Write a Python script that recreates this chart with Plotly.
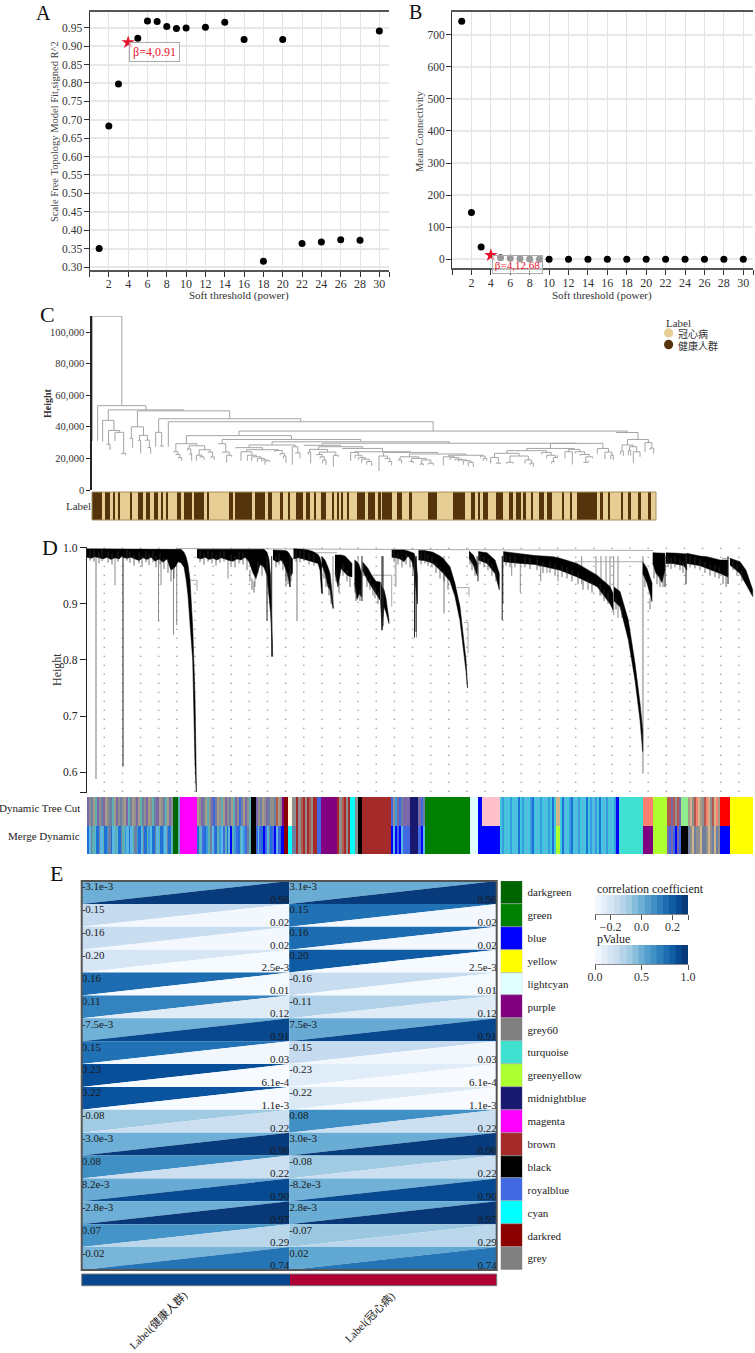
import plotly.graph_objects as go
from plotly.colors import sample_colorscale

W, H = 755, 1353
SERIF = "Liberation Serif, Noto Sans CJK SC"

# ---------- A / B: soft threshold ----------
powers = [1, 2, 3, 5, 6, 7, 8, 9, 10, 12, 14, 16, 18, 20, 22, 24, 26, 28, 30]
fit_r2 = [0.35, 0.683, 0.797, 0.921, 0.968, 0.967, 0.953, 0.948, 0.949, 0.951,
          0.965, 0.918, 0.316, 0.918, 0.364, 0.368, 0.374, 0.373, 0.941]
mean_k = [742, 146, 38, 5, 3, 1.5, 1, 0.5, 0.4, 0.3, 0.2, 0.2, 0.2, 0.2, 0.1, 0.1, 0.1, 0.1, 0.1]
power_ticks = [0, 2, 4, 6, 8, 10, 12, 14, 16, 18, 20, 22, 24, 26, 28, 30, 31]
power_labels = ["", "2", "4", "6", "8", "10", "12", "14", "16", "18", "20", "22", "24", "26", "28", "30", ""]
best_power = 4
best_fit = 0.91
best_k = 12.68

# ---------- C: sample tree, leaf = (position, height), node = [height, child, child] ----------
sample_tree = [110,
    (22, 31.0),
    [53.4,
     (38, 31.2),
     [50.7,
      [44.1, (53, 30.6),
       [37.7,
        [29, (66, 28.4), (75, 25.3)],
        [36.5, (90, 31), [23.2, (110, 22.6), (122, 22.2)]]]],
      [50.1,
       [40,
        [32.7, (135, 32.2), (143, 26.8)],
        [34.6, [31.5, (160, 31.0), (167, 23.2)], [31.6, (182, 31.0), [27, (189, 26.5), (197, 23)]]]],
       [45.1,
        [36.5, (212, 27.4), [27.9, (225, 27.6), (235, 27.4)]],
        [43.2, (250, 27.4),
         [37.3,
          [34.4,
           [29.3,
            [24.2, (266, 23.8), [22.5, (273, 22), [20.5, (280, 20), (290, 18.5)]]],
            [28,
             [26, (307, 25), [23, (315, 22), (320, 18.5)]],
             [25.5,
              [22, (334, 18.5), [21, (345, 20.5), (357, 19)]],
              [24, (368, 24), [21, (378, 20), (388, 19)]]]]],
           [32,
            [29.3, (401, 29), [24, (412, 23.5), [22, (425, 17.5), (440, 21)]]],
            [30.5,
             [28.5,
              [26.8, (452, 26.3),
               [25.5,
                [24.2, (468, 18.5), [22, (487, 18.5), [21, (500, 18.5), [20, (517, 17.8),
                 [19, (530, 18), [18.5, (540, 16), (555, 18)]]]]]],
                [25, (570, 24), [23, (585, 22), [21.5, (595, 20), (603, 17)]]]]],
              [27.4, (622, 16), [23.5, (632, 23), (645, 20)]]],
             [29.6,
              [28.3, (657, 28),
               [27.4,
                [25.7,
                 [24, (670, 22.4), (677, 16.8)],
                 [24,
                  [22.5, (695, 22), [21, (705, 20), [19, (713, 17), (723, 15.8)]]],
                  [22, (745, 14.7), (760, 21)]]],
                [26.3, (772, 26),
                 [24.2,
                  [23.8, (797, 18.5), [22, (810, 20), [20.5, (820, 19), [19.5, (830, 17), [18, (845, 16), (860, 15.2)]]]]],
                  [23.8,
                   [21.5, (882, 12), [20, (900, 19.5), [18, (910, 18.5), (920, 15.5)]]],
                   [22.8,
                    [21,
                     [19, (940, 18.5), (950, 17)],
                     [20, [18, (975, 18.5), (985, 17)],
                      [19, [16.5, (1005, 16), (1015, 15.5)], [17, (1030, 16), (1045, 15.5)]]]],
                    [22,
                     [21, (1075, 15.5), [20.5, (1095, 19), [19.5, (1110, 18.5), [19, (1120, 18),
                      [18.5, (1135, 16), [17.5, (1150, 15), (1165, 14.5)]]]]]],
                     [21.5, (1187, 20.5), [20, (1195, 18.5), (1205, 18.5)]]]]]]]]],
              [29.5,
               [26.3,
                [24.9,
                 [23.2,
                  [20.6, (1217, 16.8), [17, (1233, 16.8), (1247, 16.4)]],
                  [21.5, [17.5, (1265, 16.4), (1285, 16.8)], [19, (1320, 16.8), [17, (1335, 15.8), (1345, 14.7)]]]],
                 [23.8, (1370, 22.5), [22, (1385, 20), [20.5, [18, (1400, 16.8), (1410, 18)], (1418, 22)]]]],
                [25.7,
                 [24.2, (1440, 20), (1462, 16.2)],
                 [24.2, (1470, 23.2), [22.5, (1485, 21.7), [21, [17.5, (1495, 17.3), (1510, 18.5)], (1523, 20)]]]]],
               [26.3, (1537, 23), [24, (1560, 19.5), [22, (1577, 19.5), (1585, 19)]]]]]]]],
          [36.4, (1595, 35.9),
           [32,
            [28.5,
             [24.7, (1607, 22.5), (1615, 21.5)],
             [27.4, [25, (1630, 22), (1637, 21.7)], [24.2, (1645, 17.3), (1665, 21)]]],
            [30, (1680, 24), [26.5, (1695, 25.3), (1706, 23)]]]]]]]]]]]

# start/end of the dark samples along the label strip
healthy_start = [22, 60, 84, 98, 135, 160, 183, 206, 227, 243, 275, 297, 328, 365, 433, 450, 510, 548,
                 585, 610, 632, 662, 687, 708, 742, 757, 768, 786, 815, 848, 880, 890, 935, 973, 1028,
                 1103, 1158, 1178, 1195, 1233, 1271, 1293, 1315, 1340, 1362, 1385, 1432, 1455, 1477,
                 1545, 1568, 1607, 1628, 1660, 1690]
healthy_end = [50, 75, 91, 105, 142, 173, 195, 218, 235, 250, 288, 320, 358, 371, 445, 500, 540, 562,
               593, 615, 653, 675, 693, 722, 748, 760, 775, 792, 840, 870, 887, 920, 951, 981, 1057,
               1140, 1171, 1185, 1210, 1255, 1285, 1307, 1322, 1345, 1377, 1400, 1438, 1460, 1537,
               1553, 1575, 1615, 1637, 1667, 1697]
label_strip_span = [22, 1713]

# ---------- D: gene tree, each row is (position, upper height, lower height) ----------
gene_branches = [
    [(87, .998, .983), (91, .998, .981), (95, .998, .984), (99, .998, .982), (103, .998, .98), (107, .998, .983),
     (111, .998, .979), (115, .998, .982), (119, .998, .98), (122, .998, .985), (124, .998, .982), (127, .998, .981),
     (131, .998, .983), (135, .998, .98), (139, .998, .977), (143, .998, .982), (147, .998, .979), (151, .998, .983),
     (155, .998, .976), (159, .998, .98), (163, .998, .974), (167, .998, .98), (171, .998, .96), (175, .998, .965),
     (178, .998, .975), (181, .997, .973), (184, .992, .965), (186, .984, .945), (188, .97, .915), (190, .9425, .865),
     (192.7, .859, .80), (195, .735, .616), (196, .62, .575), (196.4, .565, .565)],
    [(197, .997, .982), (201, .997, .98), (205, .997, .983), (209, .997, .979), (213, .997, .981), (217, .997, .978),
     (221, .997, .982), (225, .997, .98), (229, .997, .977), (233, .997, .976), (237, .997, .98), (241, .997, .978),
     (245, .997, .983), (249, .997, .975), (253, .997, .955), (256, .997, .945), (260, .997, .97), (264, .997, .965),
     (267, .992, .95), (269, .98, .92), (270.5, .95, .885), (272, .87, .83), (272.7, .806, .806)],
    [(273, .996, .979), (277, .996, .974), (281, .996, .978), (284, .995, .97), (287, .994, .955), (289, .99, .94),
     (290, .985, .93)],
    [(288.5, .99, .96), (291, .985, .95), (292.5, .98, .955)],
    [(293.5, .998, .98), (298, .998, .982), (303, .997, .98), (308, .996, .978), (313, .993, .975), (318, .988, .972),
     (320, .982, .96), (321.5, .97, .92), (322.5, .93, .918)],
    [(321.5, .985, .97), (325, .978, .954), (328, .965, .93), (330, .954, .925), (332, .92, .90), (333.3, .893, .892)],
    [(335, .987, .955), (338, .987, .93), (341, .987, .963), (345, .985, .955), (348, .98, .95), (352, .972, .948)],
    [(354.5, .978, .937), (357, .975, .908), (359, .97, .918), (361.7, .954, .912)],
    [(362.5, .975, .96), (368, .963, .94), (372, .95, .93), (376, .94, .918), (380, .939, .907)],
    [(380.5, .939, .907), (382, .93, .853), (384, .925, .895), (386, .91, .885), (389, .871, .865)],
    [(391.7, .996, .983), (396, .996, .982), (400, .996, .98), (404, .996, .975), (408, .994, .985), (412, .992, .975),
     (414, .99, .96), (416, .98, .93), (417.5, .95, .90)],
    [(418.5, .995, .978), (424, .995, .977), (430, .993, .974), (433, .992, .972), (440, .985, .96), (443, .981, .955),
     (450, .966, .94), (455, .936, .913), (460, .895, .87), (463, .85, .824), (466, .80, .78), (467.5, .752, .75)],
    [(469, .994, .981), (473.3, .987, .969), (477.3, .972, .95)],
    [(478.3, .993, .978), (487, .991, .972), (495, .978, .954), (499.3, .954, .925)],
    [(503.3, .993, .975), (512, .991, .973), (520, .989, .972), (535, .986, .97), (553, .984, .963), (560, .981, .96),
     (577, .972, .948), (597, .951, .931), (610, .931, .90), (613, .919, .889)],
    [(614, .93, .905), (620, .922, .895), (628.3, .871, .836), (635, .794, .764), (640, .723, .693), (642.7, .675, .637)],
    [(642.7, .975, .954), (647, .963, .937), (652, .937, .904)],
    [(652.7, .991, .972), (656, .991, .954), (659, .991, .948), (662, .99, .938), (665, .99, .96)],
    [(666, .991, .972), (672, .991, .972), (678, .99, .97), (684, .989, .968), (686.7, .989, .96)],
    [(686.7, .99, .972), (700, .985, .968), (707, .984, .963), (720, .978, .954), (728, .978, .948)],
    [(730, .981, .969), (740, .975, .954), (746, .96, .936), (752.7, .925, .913)],
]
black_spike_x = [123, 267, 271.7, 290, 362, 382, 383, 414.5, 416, 478, 502.2, 502.8, 686, 665, 728]
black_spike_low = [.61, .87, .806, .93, .905, .853, .86, .84, .85, .94, .871, .90, .935, .93, .935]
fringe_x = [90, 94, 99, 102, 108, 112, 118, 127, 130, 134, 139, 142, 146, 149, 153, 156, 160, 164, 168, 171, 174,
            200, 204, 208, 212, 216, 220, 224, 231, 235, 239, 243, 247, 250, 252, 254, 258, 262,
            276, 279, 283, 286, 288, 291, 296, 300, 304, 309, 314,
            324, 326, 329, 331, 336, 339, 343, 347, 350, 355, 356, 360, 364, 367, 370, 373, 375, 378,
            394, 398, 402, 406, 410, 413, 421, 425, 428, 432, 436, 440, 444, 448,
            470, 472, 475, 480, 484, 488, 492, 496,
            506, 510, 515, 525, 530, 537, 543, 550, 555, 562, 567, 572, 578, 583, 588, 592, 600, 604, 608, 616, 622,
            645, 650, 654, 657, 660, 663, 668, 671, 675, 680, 683,
            690, 695, 700, 705, 710, 715, 719, 723, 726, 733, 737, 742]
fringe_low = [.977, .975, .972, .976, .973, .97, .975, .977, .973, .968, .972, .966, .974, .969, .974, .965, .97, .962,
              .955, .94, .945,
              .974, .97, .975, .972, .968, .973, .975, .968, .965, .972, .97, .96, .94, .925, .92, .955, .95,
              .965, .97, .96, .94, .935, .94, .975, .974, .976, .97, .968,
              .945, .93, .915, .9, .94, .92, .95, .94, .93, .92, .905, .905, .95, .93, .925, .915, .91, .9,
              .975, .97, .965, .97, .965, .95, .97, .972, .968, .965, .955, .945, .94, .925,
              .97, .96, .95, .97, .965, .96, .95, .94,
              .968, .965, .965, .965, .962, .96, .955, .955, .95, .948, .945, .94, .935, .925, .925, .92, .915, .905,
              .9, .89, .875,
              .93, .89, .945, .935, .93, .93, .965, .962, .965, .96, .955,
              .965, .963, .96, .955, .95, .948, .945, .935, .93, .96, .95, .94]
thin_spike_x = [115, 158.5, 161, 173.5, 176.7, 228, 255, 286, 333, 358, 416.5, 476.7, 511.7, 520.3,
                540.7, 547, 558, 581.7, 596, 601, 606, 610, 613.7, 618]
thin_spike_low = [.933, .868, .933, .845, .862, .945, .93, .93, .891, .91, .84, .955, .95, .92,
                  .94, .955, .94, .935, .93, .915, .925, .905, .88, .875]
thick_spike_x = [96, 297, 395.7, 444, 642.9]
thick_spike_low = [.588, .869, .93, .883, .598]
link_x = [177, 380, 653, None, 188, 197, 197, None, 295, 337, None, 363, 391.7, 391.7, None,
          457, 469, 469, None, 464, 468, 468, None, 575, 643, None, 722, 730]
link_h = [.9985, .9975, .995, None, .942, .942, .923, None, .991, .991, None, .951, .951, .895, None,
          .929, .929, .913, None, .867, .867, .812, None, .975, .975, None, .981, .981]

stripe_colors = dict(
    a="#6f7f9f", b="#8f8f8f", c="#a89a86", d="#5fb0b0", e="#7a68a8", f="#4169e1", g="#008000", h="#006400",
    m="#ff00ff", k="#000000", r="#8b0000", w="#fff8e0", n="#a52a2a", p="#800080", l="#e0ffff", i="#ffc0cb",
    t="#40e0d0", s="#fa8072", y="#adff2f", G="#90ee90", R="#ff0000", Y="#ffff00", B="#0000ff", M="#191970",
    C="#00ffff", q="#3a9ae0", u="#5ab8e0", v="#2070d8", T="#d2b48c", o="#b05a50", x="#40c8dc")

# (end of band, stripes inside it)
tree_cut_bands = [
    (172.5, "ebacdebaecbadcebabcedacbecdabecbdaecbadceb"), (177.5, "h"), (180, "d"), (197, "m"),
    (251, "cbeacdbefacbdcebacdebfacebd"), (256, "k"), (284, "ebacbeabbaocbp"), (288, "r"), (292, "w"), (296, "b"),
    (317, "nbonbnobnn"), (321, "f"), (337, "p"), (350, "nbonbn"), (355, "C"), (358, "b"), (362, "k"), (391, "n"),
    (403, "fbqefa"), (410, "e"), (418, "M"), (425, "efa"), (470, "g"), (478, "l"), (482, "B"), (500, "i"),
    (556, "xqxuxqxuxvxqxuxqvxuxqxuxqxvx"), (560, "T"), (616, "xvxuxqvxuxqxuxvxqxuqxvxuxqxuxq"), (619, "B"),
    (643, "t"), (653, "s"), (667, "y"), (681, "ooeoboe"), (688, "G"), (720, "cTbosTcbosTboTsc"), (730, "R"), (753, "Y")]
merge_bands = [
    (172.5, "vuaduvaudvqavuduvadquvudaqvuavdquvaudvquavd"), (177.5, "h"), (180, "d"), (197, "m"),
    (251, "vdufvqdaufvdqufdvuBdqfvduqfad"), (256, "k"), (283.5, "fufvBfuavfBufvB"), (288, "r"), (292, "C"), (296, "a"),
    (317, "nbonbnobnn"), (321, "f"), (337, "p"), (350, "nbonbn"), (355, "C"), (358, "b"), (362, "k"), (391, "n"),
    (403, "BuBfBu"), (410, "f"), (418, "M"), (425, "fBu"), (470, "g"), (478, "l"), (500, "B"),
    (556, "xqxuxqxuxvxqxuxqvxuxqxuxqxvx"), (560, "y"), (616, "xvxuxqvxuxqxuxvxqxuqxvxuxqxuxq"), (619, "B"),
    (643, "t"), (653, "p"), (667, "y"), (681, "efefBef"), (688, "k"), (720, "abTabbTaabTbaTab"), (730, "B"), (753, "Y")]

# ---------- E: module / trait table ----------
modules = ["darkgreen", "green", "blue", "yellow", "lightcyan", "purple", "grey60", "turquoise", "greenyellow",
           "midnightblue", "magenta", "brown", "black", "royalblue", "cyan", "darkred", "grey"]
module_colors = ["#006400", "#008000", "#0000ff", "#ffff00", "#e0ffff", "#800080", "#808080", "#40e0d0", "#adff2f",
                 "#191970", "#ff00ff", "#a52a2a", "#000000", "#4169e1", "#00ffff", "#8b0000", "#808080"]
corr_healthy = [-3.1e-3, -0.15, -0.16, -0.20, 0.16, 0.11, -7.5e-3, 0.15, 0.23, 0.22, -0.08, -3.0e-3, 0.08, 8.2e-3,
                -2.8e-3, 0.07, -0.02]
corr_text_healthy = ["-3.1e-3", "-0.15", "-0.16", "-0.20", "0.16", "0.11", "-7.5e-3", "0.15", "0.23", "0.22", "-0.08",
                     "-3.0e-3", "0.08", "8.2e-3", "-2.8e-3", "0.07", "-0.02"]
corr_cad = [3.1e-3, 0.15, 0.16, 0.20, -0.16, -0.11, 7.5e-3, -0.15, -0.23, -0.22, 0.08, 3.0e-3, -0.08, -8.2e-3, 2.8e-3,
            -0.07, 0.02]
corr_text_cad = ["3.1e-3", "0.15", "0.16", "0.20", "-0.16", "-0.11", "7.5e-3", "-0.15", "-0.23", "-0.22", "0.08",
                 "3.0e-3", "-0.08", "-8.2e-3", "2.8e-3", "-0.07", "0.02"]
p_values = [0.96, 0.02, 0.02, 2.5e-3, 0.01, 0.12, 0.91, 0.03, 6.1e-4, 1.1e-3, 0.22, 0.96, 0.22, 0.90, 0.97, 0.29, 0.74]
p_text = ["0.96", "0.02", "0.02", "2.5e-3", "0.01", "0.12", "0.91", "0.03", "6.1e-4", "1.1e-3", "0.22", "0.96", "0.22",
          "0.90", "0.97", "0.29", "0.74"]
corr_steps = [-.28, -.24, -.2, -.16, -.12, -.08, -.04, 0, .04, .08, .12, .16, .2, .24, .28]
p_steps = [.03, .1, .17, .23, .3, .37, .43, .5, .57, .63, .7, .77, .83, .9, .97]


def dom_x(a, b):
    return [a / W, b / W]


def dom_y(top, bottom):
    return [1 - bottom / H, 1 - top / H]


def note(px, py, text, size=12, anchor="left", angle=0, color="#222222"):
    return dict(x=px / W, y=1 - py / H, xref="paper", yref="paper", text=text, showarrow=False, xanchor=anchor,
                yanchor="middle", textangle=angle, font=dict(size=size, color=color, family=SERIF))


def walk_tree(node, xs, ys):
    if isinstance(node, tuple):
        return node[0], node[1]
    spots = [walk_tree(c, xs, ys) for c in node[1:]]
    h = node[0]
    xs += [spots[0][0], spots[0][0], spots[-1][0], spots[-1][0], None]
    ys += [spots[0][1] * 1000, h * 1000, h * 1000, spots[-1][1] * 1000, None]
    return (spots[0][0] + spots[-1][0]) / 2, h


def spikes(xs, lows, top=.985):
    out_x, out_y = [], []
    for x, low in zip(xs, lows):
        out_x += [x, x, None]
        out_y += [top, low, None]
    return out_x, out_y


def band_runs(bands, start=86.7):
    left, width, colors = [], [], []
    for end, stripes in bands:
        step = (end - start) / len(stripes)
        for i, code in enumerate(stripes):
            left.append(start + i * step)
            width.append(step)
            colors.append(stripe_colors[code])
        start = end
    return left, width, colors


fig = go.Figure()

# A and B
for xa, ya, values, best in [("x", "y", fit_r2, best_fit), ("x2", "y2", mean_k, best_k)]:
    fig.add_trace(go.Scatter(x=powers, y=values, mode="markers", xaxis=xa, yaxis=ya,
                             marker=dict(color="black", size=7), showlegend=False))
    fig.add_trace(go.Scatter(x=[best_power], y=[best], mode="markers", xaxis=xa, yaxis=ya,
                             marker=dict(color="#e8102a", size=10, symbol="star"), showlegend=False))

# C
tree_x, tree_y = [], []
walk_tree(sample_tree, tree_x, tree_y)
fig.add_trace(go.Scatter(x=tree_x, y=tree_y, mode="lines", xaxis="x3", yaxis="y3",
                         line=dict(color="#a4a4a4", width=1), showlegend=False))
fig.add_trace(go.Bar(y=["Label"], x=[label_strip_span[1] - label_strip_span[0]], base=[label_strip_span[0]],
                     orientation="h", width=1, xaxis="x4", yaxis="y4", marker=dict(color="#e6cd94", line_width=0),
                     showlegend=False))
fig.add_trace(go.Bar(y=["Label"] * len(healthy_start), x=[e - s for s, e in zip(healthy_start, healthy_end)],
                     base=healthy_start, orientation="h", width=1, xaxis="x4", yaxis="y4",
                     marker=dict(color="#55340c", line_width=0), showlegend=False))

# D
cut_x = [104.3 + 18.13 * i for i in range(36)]
dot_x, dot_y = spikes(cut_x, [.5637] * 36, top=1.0)
fig.add_trace(go.Scatter(x=dot_x, y=dot_y, mode="lines", xaxis="x5", yaxis="y5",
                         line=dict(color="#8a8a8a", width=1.5, dash="1px,8px"), showlegend=False))
sx, sy = spikes(thick_spike_x, thick_spike_low)
fig.add_trace(go.Scatter(x=sx, y=sy, mode="lines", xaxis="x5", yaxis="y5",
                         line=dict(color="#bcbcbc", width=2), showlegend=False))
sx, sy = spikes(thin_spike_x, thin_spike_low)
fig.add_trace(go.Scatter(x=sx, y=sy, mode="lines", xaxis="x5", yaxis="y5",
                         line=dict(color="#8c8c8c", width=1), showlegend=False))
fig.add_trace(go.Scatter(x=link_x, y=link_h, mode="lines", xaxis="x5", yaxis="y5",
                         line=dict(color="#ababab", width=1), showlegend=False))
for branch in gene_branches:
    pos = [b[0] for b in branch]
    upper = [b[1] for b in branch]
    lower = [b[2] for b in branch]
    fig.add_trace(go.Scatter(x=pos + pos[::-1], y=upper + lower[::-1], mode="lines", fill="toself",
                             fillcolor="black", xaxis="x5", yaxis="y5", line=dict(color="black", width=0.5),
                             showlegend=False))
sx, sy = spikes(black_spike_x, black_spike_low)
fig.add_trace(go.Scatter(x=sx, y=sy, mode="lines", xaxis="x5", yaxis="y5",
                         line=dict(color="#222222", width=1), showlegend=False))
fx, fy = [], []
for x, low in zip(fringe_x, fringe_low):
    fx += [x, x, None]
    fy += [low + .02, low, None]
fig.add_trace(go.Scatter(x=fx, y=fy, mode="lines", xaxis="x5", yaxis="y5",
                         line=dict(color="#333333", width=0.7), showlegend=False))
for name, bands in [("Dynamic Tree Cut", tree_cut_bands), ("Merge Dynamic", merge_bands)]:
    left, width, colors = band_runs(bands)
    fig.add_trace(go.Bar(y=[name] * len(left), x=width, base=left, orientation="h", width=1, xaxis="x6", yaxis="y6",
                         marker=dict(color=colors, line_width=0), showlegend=False))

# E
blues = "Blues"
for col, corr in enumerate([corr_healthy, corr_cad]):
    for i in range(len(modules)):
        top, low = len(modules) - i, len(modules) - i - 1
        c_color = sample_colorscale(blues, (corr[i] + 0.3) / 0.6)[0]
        p_color = sample_colorscale(blues, p_values[i])[0]
        fig.add_trace(go.Scatter(x=[col, col, col + 1, col], y=[low, top, top, low], mode="lines", fill="toself",
                                 fillcolor=c_color, line=dict(width=0), xaxis="x7", yaxis="y7", showlegend=False))
        fig.add_trace(go.Scatter(x=[col, col + 1, col + 1, col], y=[low, top, low, low], mode="lines", fill="toself",
                                 fillcolor=p_color, line=dict(width=0), xaxis="x7", yaxis="y7", showlegend=False))
    labels = corr_text_healthy if col == 0 else corr_text_cad
    fig.add_trace(go.Scatter(x=[col] * len(modules), y=[len(modules) - i - 0.29 for i in range(len(modules))],
                             text=labels, mode="text", textposition="middle right", xaxis="x7", yaxis="y7",
                             textfont=dict(size=11, color="#1a1a1a"), showlegend=False))
    fig.add_trace(go.Scatter(x=[col + 1] * len(modules), y=[len(modules) - i - 0.83 for i in range(len(modules))],
                             text=p_text, mode="text", textposition="middle left", xaxis="x7", yaxis="y7",
                             textfont=dict(size=11, color="#1a1a1a"), showlegend=False))
fig.add_trace(go.Bar(y=modules, x=[1] * len(modules), orientation="h", width=1, xaxis="x8", yaxis="y8",
                     marker=dict(color=module_colors, line=dict(color="#aaaaaa", width=0.5)), showlegend=False))
fig.add_trace(go.Bar(y=["Label", "Label"], x=[1, 1], base=[0, 1], orientation="h", width=1, xaxis="x9", yaxis="y9",
                     marker=dict(color=["#08478f", "#ae0032"], line_width=0), showlegend=False))
fig.add_trace(go.Heatmap(x=corr_steps, z=[corr_steps], colorscale=blues, zmin=-.3, zmax=.3, showscale=False,
                         xaxis="x10", yaxis="y10"))
fig.add_trace(go.Heatmap(x=p_steps, z=[p_steps], colorscale=blues, zmin=0, zmax=1, showscale=False,
                         xaxis="x11", yaxis="y11"))

tick_font = dict(size=12, color="#333333", family=SERIF)
hidden = dict(visible=False, fixedrange=True)
power_axis = dict(range=[0, 31], tickvals=power_ticks, ticktext=power_labels, ticks="outside", ticklen=5,
                  ticklabelstandoff=-3, tickcolor="#333333", showline=True, mirror=True, linecolor="#555555",
                  linewidth=2, gridcolor="#e4e4e4", zeroline=False, tickfont=tick_font)
value_axis = dict(ticks="outside", ticklen=5, ticklabelstandoff=-1, tickcolor="#333333", showline=True,
                  linecolor="#333333", linewidth=1, gridcolor="#e8e8e8", gridwidth=1.5, zeroline=False,
                  tickfont=dict(size=11.5, color="#333333", family=SERIF))

fig.update_layout(
    width=W, height=H, autosize=False, margin=dict(l=0, r=0, t=0, b=0), paper_bgcolor="white", plot_bgcolor="white",
    font=dict(family=SERIF, color="#222222"), barmode="overlay", bargap=0, hovermode=False,
    xaxis=dict(power_axis, domain=dom_x(89.5, 389), anchor="y"),
    yaxis=dict(value_axis, domain=dom_y(12, 270), anchor="x", range=[0.2919, 0.9926], dtick=0.05, tick0=0.3,
               tickformat=".2f"),
    xaxis2=dict(power_axis, domain=dom_x(452, 753), anchor="y2"),
    yaxis2=dict(value_axis, domain=dom_y(12, 268.3), anchor="x2", range=[-28, 770.7], dtick=100, tick0=0),
    xaxis3=dict(hidden, domain=dom_x(92, 660), range=[21, 1725], anchor="y3"),
    yaxis3=dict(domain=dom_y(316, 490), range=[0, 110126], anchor="x3", tickvals=[0, 20000, 40000, 60000, 80000, 100000],
                tickformat=",", ticks="outside", ticklen=4, tickcolor="#222222", showline=True, linecolor="#222222",
                linewidth=1.5, showgrid=False, zeroline=False, tickfont=dict(size=10.5, color="#333333", family=SERIF)),
    xaxis4=dict(hidden, domain=dom_x(92, 660), range=[21, 1725], anchor="y4"),
    yaxis4=dict(domain=dom_y(492, 520), anchor="x4", showgrid=False, zeroline=False, showline=False, ticks="",
                tickfont=dict(size=11, color="#333333", family=SERIF)),
    xaxis5=dict(hidden, domain=dom_x(86.7, 755), range=[86.7, 755], anchor="y5"),
    yaxis5=dict(domain=dom_y(547, 792.7), range=[0.5637, 1.0012], anchor="x5",
                tickvals=[0.5637, 0.6, 0.7, 0.8, 0.9, 1.0], ticktext=["", "0.6", "0.7", "0.8", "0.9", "1.0"],
                ticks="outside", ticklen=6, tickcolor="#222222", showline=True, linecolor="#222222", linewidth=1,
                showgrid=False, zeroline=False, tickfont=dict(size=11.5, color="#222222", family=SERIF)),
    xaxis6=dict(hidden, domain=dom_x(86.7, 755), range=[86.7, 755], anchor="y6"),
    yaxis6=dict(hidden, domain=dom_y(797, 854), anchor="x6", autorange="reversed"),
    xaxis7=dict(hidden, domain=dom_x(81.7, 496.7), range=[0, 2], anchor="y7"),
    yaxis7=dict(domain=dom_y(881, 1270), range=[0, 17], anchor="x7", visible=False),
    xaxis8=dict(hidden, domain=dom_x(500.7, 522.3), range=[0, 1], anchor="y8"),
    yaxis8=dict(domain=dom_y(881, 1270), anchor="x8", side="right", autorange="reversed", showgrid=False,
                zeroline=False, ticks="outside", ticklen=2, tickcolor="rgba(0,0,0,0)", showline=False,
                tickfont=dict(size=11, color="#222222", family=SERIF)),
    xaxis9=dict(hidden, domain=dom_x(81.7, 496.7), range=[0, 2], anchor="y9"),
    yaxis9=dict(hidden, domain=dom_y(1274, 1285.7), anchor="x9"),
    xaxis10=dict(domain=dom_x(595, 688), range=[-.3, .3], anchor="y10", tickvals=[-.3, -.2, 0, .2, .3],
                 ticktext=["", "\u22120.2", "0.0", "0.2", ""], ticks="outside", ticklen=5, ticklabelstandoff=-3,
                 tickcolor="#555555", showline=True, linecolor="#888888", linewidth=1, showgrid=False, zeroline=False,
                 tickfont=tick_font),
    yaxis10=dict(hidden, domain=dom_y(895, 914), anchor="x10"),
    xaxis11=dict(domain=dom_x(595, 688), range=[0, 1], anchor="y11", tickvals=[0, .5, 1],
                 ticktext=["0.0", "0.5", "1.0"], ticks="outside", ticklen=5, ticklabelstandoff=-3,
                 tickcolor="#555555", showline=True, linecolor="#888888", linewidth=1, showgrid=False, zeroline=False,
                 tickfont=tick_font),
    yaxis11=dict(hidden, domain=dom_y(945, 964), anchor="x11"),
)
fig.update_xaxes(automargin=False)
fig.update_yaxes(automargin=False)

annotations = [
    note(43, 13, "A", 20, "center", color="#111111"), note(415, 12, "B", 20, "center", color="#111111"),
    note(47, 315, "C", 22, "center", color="#111111"), note(50, 547, "D", 22, "center", color="#111111"),
    note(56, 873, "E", 22, "center", color="#111111"),
    note(55, 132, "Scale Free Topology Model Fit,signed R^2", 10.5, "center", -90, "#444444"),
    note(420, 131, "Mean Connectivity", 10.5, "center", -90, "#444444"),
    note(239, 295, "Soft threshold (power)", 11, "center", color="#333333"),
    note(602, 295, "Soft threshold (power)", 11, "center", color="#333333"),
    note(47, 403, "<b>Height</b>", 10, "center", -90, "#333333"),
    note(57, 670, "Height", 12, "center", -90, "#333333"),
    note(82, 808, "Dynamic Tree Cut", 11, "right"), note(82, 836, "Merge Dynamic", 11, "right"),
    note(664, 323, "Label", 11, color="#333333"), note(676, 334, "冠心病", 10, color="#333333"),
    note(676, 346, "健康人群", 10, color="#333333"),
    note(595, 889, "correlation coefficient", 12), note(595, 939, "pValue", 12),
    note(158.5, 1320, "Label(健康人群)", 11, "center", -45), note(370, 1317, "Label(冠心病)", 11, "center", -45),
    dict(x=best_power, y=best_fit, xref="x", yref="y", text="β=4,0.91", showarrow=False, xanchor="left", yanchor="top",
         xshift=1, width=47, height=16, bgcolor="rgba(255,255,255,0.6)", bordercolor="#aaaaaa", borderwidth=1,
         font=dict(size=12, color="#e8102a", family=SERIF)),
    dict(x=best_power, y=best_k, xref="x2", yref="y2", text="β=4,12.68", showarrow=False, xanchor="left", yanchor="top",
         xshift=1, width=47, height=15, bgcolor="rgba(255,255,255,0.6)", bordercolor="#aaaaaa", borderwidth=1,
         font=dict(size=11, color="#e8102a", family=SERIF)),
]
fig.update_layout(annotations=annotations)

shapes = [
    dict(type="circle", xref="paper", yref="paper", x0=664 / W, x1=673.2 / W, y0=1 - 337.5 / H, y1=1 - 328.3 / H,
         fillcolor="#e6cd94", line_width=0),
    dict(type="circle", xref="paper", yref="paper", x0=664 / W, x1=673.2 / W, y0=1 - 349.3 / H, y1=1 - 339.8 / H,
         fillcolor="#55340c", line_width=0),
    dict(type="rect", xref="paper", yref="paper", x0=92 / W, x1=656 / W, y0=1 - 520 / H, y1=1 - 492 / H,
         line=dict(color="#a88f5c", width=1)),
    dict(type="rect", xref="paper", yref="paper", x0=81.7 / W, x1=496.7 / W, y0=1 - 1270 / H, y1=1 - 881 / H,
         line=dict(color="#555555", width=2)),
    dict(type="rect", xref="paper", yref="paper", x0=81.7 / W, x1=496.7 / W, y0=1 - 1285.7 / H, y1=1 - 1274 / H,
         line=dict(color="#777777", width=1)),
]
fig.update_layout(shapes=shapes)

fig.write_html("out.html", config={"displayModeBar": False},
               post_script="document.body.style.margin='0';document.documentElement.style.overflow='hidden';")
